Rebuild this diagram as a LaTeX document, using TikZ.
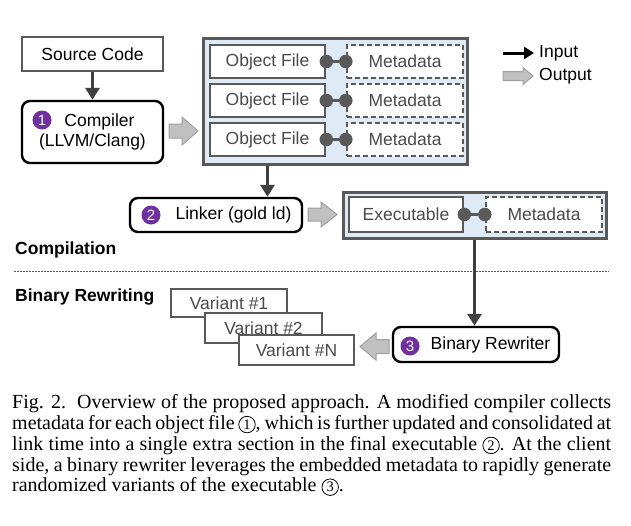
\documentclass[tikz,border=0pt]{standalone}
\usepackage{fontspec}
\setmainfont{Liberation Sans}
\newfontfamily\capserif{Liberation Serif}
\usetikzlibrary{arrows.meta}
\definecolor{bordergray}{HTML}{595959}
\definecolor{textgray}{HTML}{4A4A4A}
\definecolor{lightblue}{HTML}{DEEBF7}
\definecolor{purp}{HTML}{7030A0}
\definecolor{gfill}{HTML}{C0C0C0}
\definecolor{gline}{HTML}{A0A0A0}
\definecolor{arrowdark}{HTML}{404040}
\newcommand{\capcirc}[1]{\tikz[baseline=(cc.base),x=1pt,y=1pt]\node[draw=black,circle,line width=0.8pt,inner sep=0pt,minimum size=16.5pt,font=\capserif\fontsize{14.5}{14.5}\selectfont] (cc) {#1};}
\begin{document}
\begin{tikzpicture}[x=1pt,y=-1pt,
  every node/.style={font=\fontsize{17.5}{20}\selectfont},
  plainbox/.style={draw=bordergray,line width=2.6pt,fill=white,minimum height=34pt,inner sep=0pt},
  grayitem/.style={plainbox,text=textgray},
  metabox/.style={draw=bordergray,line width=2.4pt,dash pattern=on 5pt off 3pt,fill=white,text=textgray,inner sep=0pt,minimum height=33pt},
  stage/.style={draw=black,line width=2.4pt,rounded corners=8pt,fill=white,inner sep=0pt},
  container/.style={draw=bordergray,line width=3pt,fill=lightblue,inner sep=0pt},
  numcircle/.style={circle,fill=purp,text=white,inner sep=0pt,minimum size=19pt,font=\fontsize{15}{15}\selectfont},
  arr/.style={draw=arrowdark,line width=3.5pt,-{Triangle[length=12pt,width=14pt]}},
  dot/.style={circle,fill=bordergray,inner sep=0pt,minimum size=13.5pt},
  link/.style={draw=bordergray,line width=2.5pt},
  garrow/.style={fill=gfill,draw=gline,line width=1pt},
  secttitle/.style={font=\bfseries\fontsize{17.5}{20}\selectfont,anchor=west,inner sep=0pt}
]
\useasboundingbox (0,0) rectangle (631,525);

% ---------- Compilation ----------
\node[plainbox,minimum width=141pt] (src) at (92.5,54) {Source Code};
\node[stage,minimum width=141pt,minimum height=62pt,align=center] (comp) at (92.5,132)
  {\hspace*{14pt}Compiler\\(LLVM/Clang)};
\node[numcircle] (c1) at (42,120) {1};
\draw[arr] (src) -- (comp);

\draw[garrow,shift={(183.5,131)}] (-14.5,-7) -- (-1.5,-7) -- (-1.5,-14) -- (14.5,0) -- (-1.5,14) -- (-1.5,7) -- (-14.5,7) -- cycle;

\node[container,minimum width=264pt,minimum height=126pt] (objs) at (335,101) {};
\foreach \i/\y in {1/61.5,2/100.5,3/139.5}{
  \node[grayitem,minimum width=115pt,minimum height=33pt] (obj\i) at (267.5,\y) {Object File};
  \node[metabox,minimum width=116pt] (meta\i) at (405,\y) {Metadata};
  \node[dot] (da\i) at (obj\i.east) {};
  \node[dot] (db\i) at (meta\i.west) {};
  \draw[link] (da\i) -- (db\i);
}

% legend
\coordinate (inA) at (503,53);
\coordinate (inB) at (534,53);
\draw[draw=black,line width=3pt,-{Triangle[length=10pt,width=12pt]}] (inA) -- (inB);
\node[anchor=west,inner sep=0pt] (inlab) at (539,53) {Input};
\draw[garrow,shift={(518,76)}] (-15,-4.5) -- (5,-4.5) -- (5,-8.5) -- (15,0) -- (5,8.5) -- (5,4.5) -- (-15,4.5) -- cycle;
\node[anchor=west,inner sep=0pt] (outlab) at (539,76) {Output};

% linker
\node[stage,minimum width=172pt,minimum height=34pt] (link) at (216,215) {\hspace*{35pt}Linker (gold ld)};
\node[numcircle] (c2) at (151,215) {2};
\draw[arr] (objs.south -| obj3.south) -- (obj3.south |- link.north);

\draw[garrow,shift={(322.5,214.5)}] (-14.5,-6.5) -- (-1.5,-6.5) -- (-1.5,-12.5) -- (14.5,0) -- (-1.5,12.5) -- (-1.5,6.5) -- (-14.5,6.5) -- cycle;

\node[container,minimum width=263pt,minimum height=46pt] (exec) at (474.5,215) {};
\node[grayitem,minimum width=114pt,minimum height=35pt] (exe) at (406,214.5) {Executable};
\node[metabox,minimum width=116pt,minimum height=35pt] (emeta) at (544,214.5) {Metadata};
\node[dot] (ea) at (exe.east) {};
\node[dot] (eb) at (emeta.west) {};
\draw[link] (ea) -- (eb);

\node[secttitle] (compt) at (15,250) {Compilation};
\coordinate (dl) at (14,271.5);
\coordinate (dr) at (609,271.5);
\draw[draw=bordergray,line width=1.5pt,dash pattern=on 1.5pt off 1.5pt] (dl) -- (dr);
\node[secttitle] (bint) at (15,297) {Binary Rewriting};

% ---------- Binary rewriting ----------
\node[stage,minimum width=166pt,minimum height=35pt] (rew) at (476,344.5) {\hspace*{29pt}Binary Rewriter};
\node[numcircle] (c3) at (410,346) {3};
\draw[arr] (exec.south) -- (exec.south |- rew.north);

\draw[garrow,shift={(374.5,346.5)},rotate=180] (-14.5,-7) -- (-1.5,-7) -- (-1.5,-13.5) -- (14.5,0) -- (-1.5,13.5) -- (-1.5,7) -- (-14.5,7) -- cycle;

\node[grayitem,minimum width=116pt,minimum height=28pt] (v1) at (229,303) {Variant \#1};
\node[grayitem,minimum width=117pt,minimum height=30pt] (v2) at (263.5,328) {Variant \#2};
\node[grayitem,minimum width=115pt,minimum height=30pt] (vn) at (296.5,350) {Variant \#N};

% ---------- Caption ----------
\node[anchor=base west,inner sep=0pt] (cap) at (12,408.5) {\parbox[t]{599pt}{\capserif\fontsize{20}{20.85}\selectfont
\hyphenpenalty=10000\exhyphenpenalty=10000\parindent=0pt
Fig. 2.\hspace{0.55em}Overview of the proposed approach. A modified compiler collects\linebreak
metadata for each object file \capcirc{1}, which is further updated and consolidated at\linebreak
link time into a single extra section in the final executable \capcirc{2}. At the client\linebreak
side, a binary rewriter leverages the embedded metadata to rapidly generate\linebreak
randomized variants of the executable \capcirc{3}.}};
\end{tikzpicture}
\end{document}
